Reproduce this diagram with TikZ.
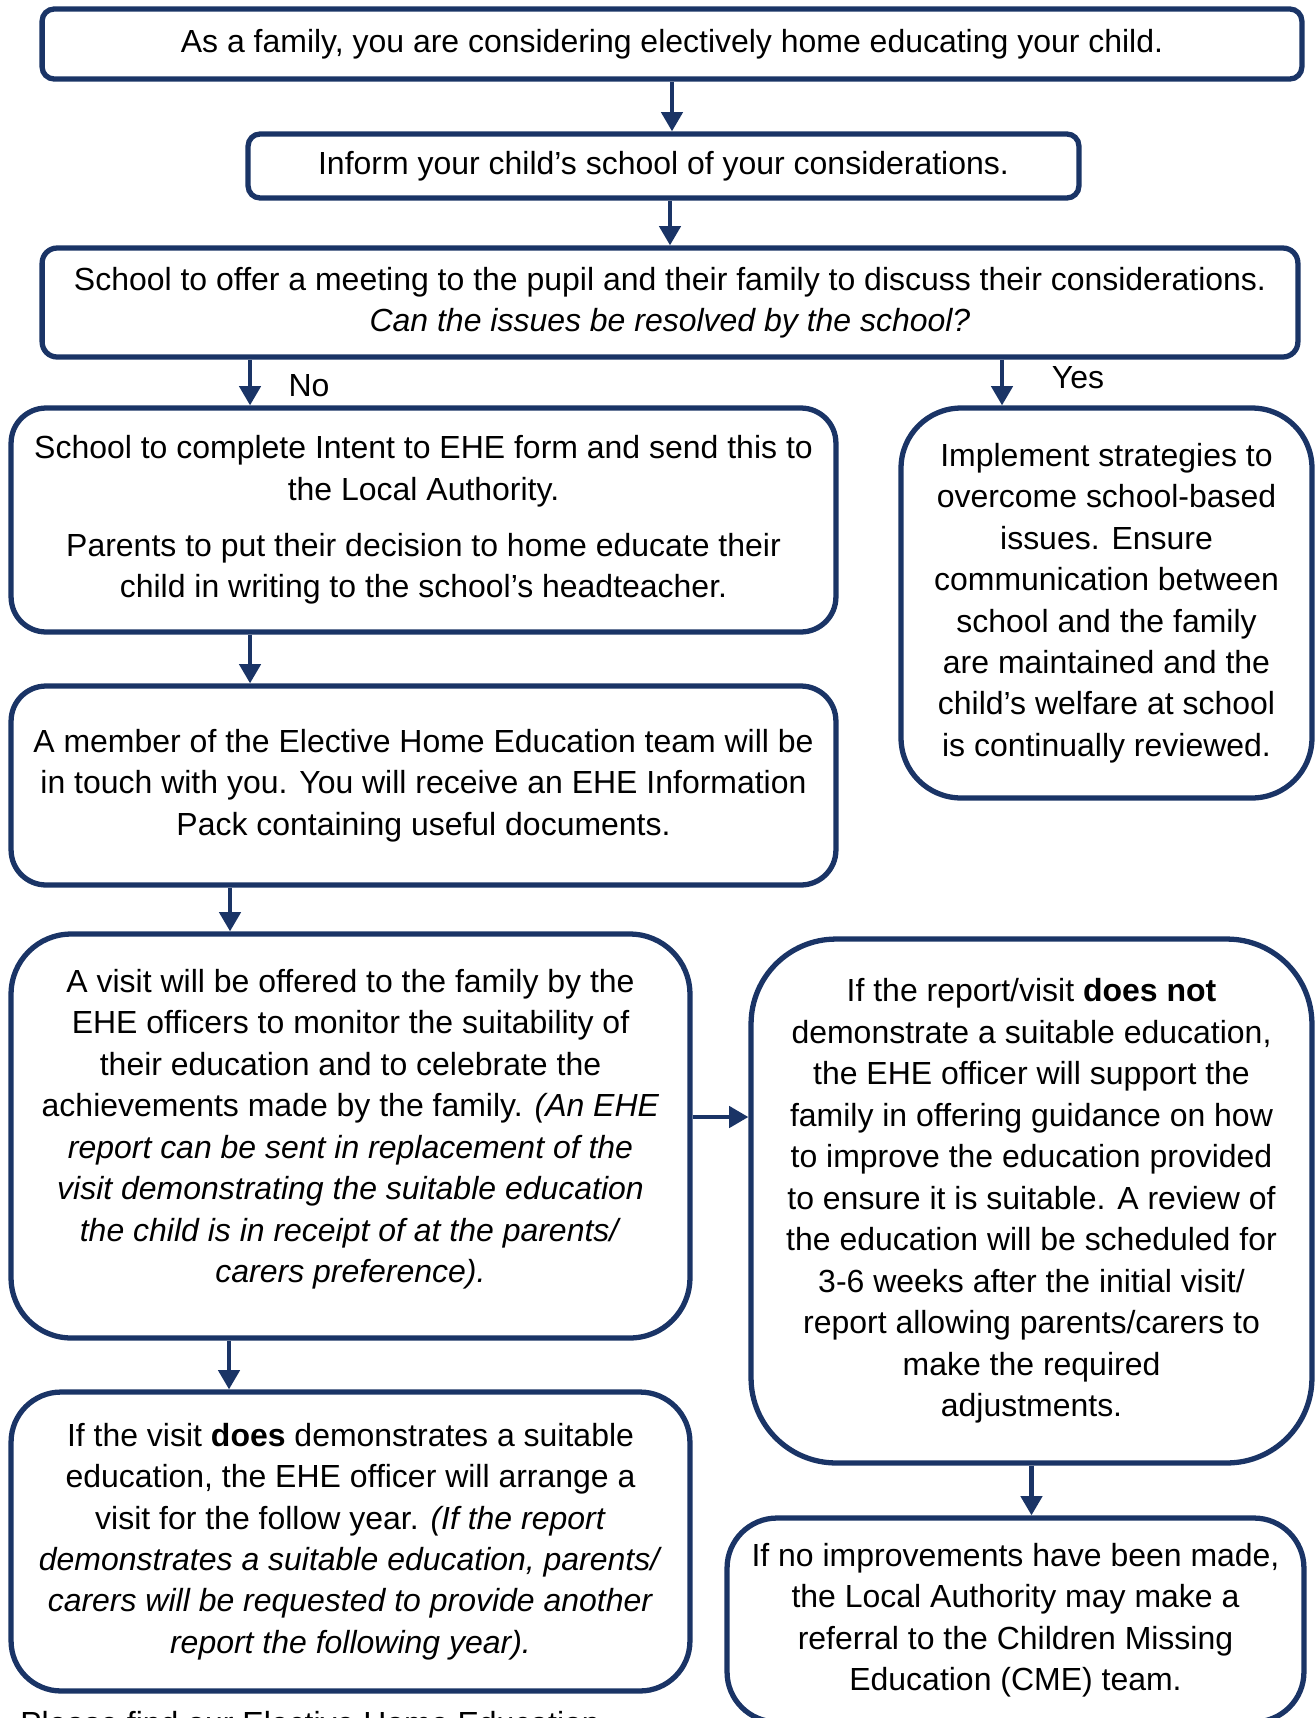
\documentclass[tikz,border=0pt]{standalone}
\usepackage{fontspec}
\setmainfont{Liberation Sans}
\usepackage{xcolor}
\usetikzlibrary{arrows.meta,positioning,calc}

\definecolor{ehenavy}{HTML}{1A3466}

\begin{document}
\begin{tikzpicture}[
    x=0.02cm, y=-0.02cm,
    flow/.style={rectangle, draw=ehenavy, line width=3pt, align=center, inner sep=0pt,
                 font=\fontsize{18.2pt}{23.6pt}\selectfont},
    arr/.style={-{Triangle[length=11pt,width=12pt]}, line width=2.5pt, draw=ehenavy},
    answer/.style={font=\fontsize{18.2pt}{23.6pt}\selectfont}
]
\useasboundingbox (0,0) rectangle (1315,1718);

% Start
\node[flow, rounded corners=0.24cm, minimum width=25.2cm, minimum height=1.4cm] (famly) at (672,44)
  {As a family, you are considering electively home educating your child.};

\node[flow, rounded corners=0.24cm, minimum width=16.62cm, minimum height=1.28cm] (inform) at (663.5,166)
  {Inform your child’s school of your considerations.};

\node[flow, rounded corners=0.3cm, minimum width=25.12cm, minimum height=2.18cm] (school) at (670,302.5)
  {School to offer a meeting to the pupil and their family to discuss their considerations.\\
   \textit{Can the issues be resolved by the school?}};

% No branch
\node[flow, rounded corners=0.7cm, minimum width=16.5cm, minimum height=4.48cm] (intent) at (423.5,520)
  {School to complete Intent to EHE form and send this to\\
   the Local Authority.\\[8.5pt]
   Parents to put their decision to home educate their\\
   child in writing to the school’s headteacher.};

\node[flow, rounded corners=0.7cm, minimum width=16.5cm, minimum height=3.98cm] (member) at (423.5,785.5)
  {A member of the Elective Home Education team will be\\
   in touch with you. You will receive an EHE Information\\
   Pack containing useful documents.};

\node[flow, rounded corners=1.2cm, minimum width=13.58cm, minimum height=8.08cm] (visit) at (350.5,1136)
  {A visit will be offered to the family by the\\
   EHE officers to monitor the  suitability of\\
   their education and to celebrate the\\
   achievements made by the family. \textit{(An EHE}\\
   \textit{report can be sent in replacement of the}\\
   \textit{visit  demonstrating the suitable education}\\
   \textit{the child is in receipt of at the parents/}\\
   \textit{carers preference).}\rule[-11.5pt]{0pt}{0pt}};

\node[flow, rounded corners=1.0cm, minimum width=13.58cm, minimum height=5.98cm] (does) at (350.5,1541.5)
  {If the visit \textbf{does} demonstrates a suitable\\
   education, the EHE officer will arrange a\\
   visit for the follow year. \textit{(If the report}\\
   \textit{demonstrates a suitable education, parents/}\\
   \textit{carers will be requested to provide another}\\
   \textit{report the following year).}};

% Yes branch
\node[flow, rounded corners=1.2cm, minimum width=8.22cm, minimum height=7.8cm] (strat) at (1106.5,603)
  {Implement strategies to\\
   overcome school-based\\
   issues. Ensure\\
   communication between\\
   school and the family\\
   are maintained and the\\
   child’s welfare at school\\
   is continually reviewed.};

% Unsuitable education
\node[flow, rounded corners=1.7cm, minimum width=11.22cm, minimum height=10.48cm] (doesnot) at (1031.5,1201)
  {If the report/visit \textbf{does not}\\
   demonstrate a suitable education,\\
   the EHE officer will support the\\
   family in offering guidance on how\\
   to improve the education  provided\\
   to ensure it is suitable. A review of\\
   the education will be scheduled for\\
   3-6 weeks after the initial visit/\\
   report allowing parents/carers to\\
   make the required\\
   adjustments.};

\node[flow, rounded corners=1.0cm, minimum width=11.54cm, minimum height=4.08cm] (cme) at (1015.5,1620)
  {If no improvements have been made,\\
   the Local Authority may make a\\
   referral to the Children Missing\\
   Education  (CME) team.};

% Answers
\node[answer] (no) at (309,386) {No};
\node[answer] (yes) at (1078,378) {Yes};

% Footer line (cut by page edge)
\node[answer, anchor=base west, inner sep=0pt] (footer) at (20,1734) {Please find our Elective Home Education};

% Connectors
\draw[arr] (famly.south) -- (famly.south |- inform.north);
\draw[arr] (school.north |- inform.south) -- (school.north);
\draw[arr] ([xshift=-3.47cm]intent.north |- school.south) -- ([xshift=-3.47cm]intent.north);
\draw[arr] ([xshift=-2.09cm]strat.north |- school.south) -- ([xshift=-2.09cm]strat.north);
\draw[arr] ([xshift=-3.47cm]intent.south) -- ([xshift=-3.47cm]member.north);
\draw[arr] ([xshift=-2.41cm]visit.north |- member.south) -- ([xshift=-2.41cm]visit.north);
\draw[arr] ([xshift=-2.43cm]does.north |- visit.south) -- ([xshift=-2.43cm]does.north);
\draw[arr] ([yshift=0.38cm]visit.east) -- ([yshift=0.38cm]visit.east -| doesnot.west);
\draw[arr] (doesnot.south) -- (doesnot.south |- cme.north);

\end{tikzpicture}
\end{document}
